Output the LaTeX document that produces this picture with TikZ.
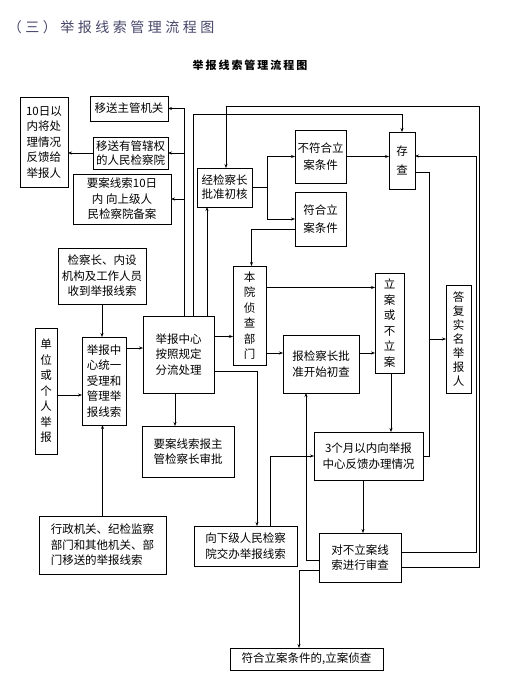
\documentclass[tikz,border=0pt]{standalone}
\usepackage{fontspec}
\setmainfont{Noto Sans CJK SC}
\newfontfamily\ttlfont[LetterSpace=25]{Noto Sans CJK SC}
\newfontfamily\subttlfont[LetterSpace=18]{Noto Sans CJK SC}
\usepackage{tikz}
\usetikzlibrary{arrows.meta,positioning}
\definecolor{titlegray}{RGB}{70,70,105}
\newcommand{\boxfont}{\fontsize{11.5}{15.5}\selectfont}

\begin{document}
\begin{tikzpicture}[
  x=1pt,y=-1pt,
  every node/.style={inner sep=0pt,outer sep=0pt},
  box/.style={draw,line width=0.8pt,align=center,font=\boxfont},
  lbox/.style={box,align=left},
  tight/.style={font=\fontsize{11.5}{14}\selectfont},
  arr/.style={line width=0.8pt,-{Stealth[length=4pt,width=3pt]}},
  ln/.style={line width=0.8pt},
]
\useasboundingbox(0,0)rectangle(513,689);

\node[anchor=west,font=\ttlfont\fontsize{14}{16}\selectfont,text=titlegray](ttl)
  at(8,27){（三）举报线索管理流程图};
\node[font=\subttlfont\bfseries\fontsize{11}{13}\selectfont](sub)
  at(250,65){举报线索管理流程图};

\node[box,minimum width=48pt,minimum height=90pt](fb)at(44,142){10日以\\内将处\\理情况\\反馈给\\举报人};
\node[box,minimum width=78pt,minimum height=25pt](zg)at(129,108.5){移送主管机关};
\node[box,tight,minimum width=75pt,minimum height=32pt](gx)at(130.5,153){移送有管辖权\\的人民检察院};
\node[box,minimum width=98pt,minimum height=50pt](ba)at(122,199){要案线索10日\\内\ 向上级人\\民检察院备案};
\node[box,tight,minimum width=55pt,minimum height=39pt](cs)at(224.5,187.5){经检察长\\批准初核};
\node[box,minimum width=51pt,minimum height=53pt](bf)at(320.5,156.5){不符合立\\[2pt]案条件};
\node[box,minimum width=51pt,minimum height=54pt](fh)at(320.5,219){符合立\\[2pt]案条件};
\node[box,minimum width=26pt,minimum height=57pt](cc)at(402,160.5){存\\[4pt]查};

\node[box,minimum width=88pt,minimum height=56pt](jc)at(102,276){检察长、内设\\机构及工作人员\\收到举报线索};
\node[box,minimum width=22pt,minimum height=126pt](dw)at(46,391){单\\位\\或\\个\\人\\举\\报};
\node[box,minimum width=44pt,minimum height=88pt](sl)at(104,381){举报中\\心统一\\受理和\\管理举\\报线索};
\node[box,minimum width=71pt,minimum height=77pt](fl)at(178.5,354.5){举报中心\\按照规定\\分流处理};
\node[box,minimum width=33pt,minimum height=99pt](zc)at(249.5,315.5){本\\院\\侦\\查\\部\\门};
\node[box,minimum width=29pt,minimum height=100pt](la)at(389.5,323){立\\案\\或\\不\\立\\案};
\node[box,minimum width=76pt,minimum height=58pt](cc2)at(321,364){报检察长批\\准开始初查};
\node[box,tight,minimum width=25pt,minimum height=108pt](df)at(458.5,339){答\\复\\实\\名\\举\\报\\人};

\node[box,minimum width=92pt,minimum height=51pt](yasp)at(188,451.5){要案线索报主\\管检察长审批};
\node[box,minimum width=109pt,minimum height=48pt](fk)at(368.5,456){3个月以内向举报\\中心反馈办理情况};
\node[lbox,minimum width=103pt,minimum height=40pt](xj)at(245.5,546){向下级人民检察\\院交办举报线索};
\node[box,minimum width=82pt,minimum height=49pt](sc)at(360,557.5){对不立案线\\索进行审查};
\node[lbox,minimum width=127pt,minimum height=58pt](xs)at(102.5,545){行政机关、纪检监察\\部门和其他机关、部\\门移送的举报线索};
\node[box,minimum width=153pt,minimum height=22pt](xz)at(306.5,659){符合立案条件的,立案侦查};

\coordinate(busA)at(184,0);
\coordinate(busB)at(193,114);
\coordinate(busC)at(207,0);
\coordinate(splt)at(267,0);
\coordinate(rtA)at(429,172);
\coordinate(rtB)at(476,156);
\coordinate(rtC)at(479,106);

\draw[arr](fl.north-|busA)|-(zg.east);
\draw[arr](gx.east-|busA)--(gx.east);
\draw[arr](ba.east-|busA)--(ba.east);
\draw[arr](gx.west)--(gx.west-|fb.east);
\draw[arr](fl.north-|busB)--(busB)-|(cc.north);
\draw[arr](fl.north-|busC)--(cs.south-|busC);

\draw[ln](cs.east)--(cs.east-|splt);
\draw[arr](cs.east-|splt)|-(bf.west);
\draw[arr](cs.east-|splt)|-(fh.west);
\draw[arr](bf.east)--(bf.east-|cc.west);
\draw[arr]([yshift=-10pt]fh.west)-|([xshift=2pt]zc.north);

\draw[arr]([yshift=18pt]fl.east)--([yshift=18pt]fl.east-|zc.west);
\draw[arr]([yshift=28pt]zc.east)--([yshift=28pt]zc.east-|la.west);
\draw[arr]([yshift=-37.5pt]zc.east)--([yshift=-37.5pt]zc.east-|cc2.west);
\draw[arr]([yshift=11pt]cc2.east)--([yshift=11pt]cc2.east-|la.west);
\draw[arr]([xshift=1.5pt]la.south)--([xshift=1.5pt]la.south|-fk.north);
\draw[arr]([xshift=-5.5pt]fk.south)--([xshift=-5.5pt]fk.south|-sc.north);
\draw[arr]([yshift=-12.5pt]sc.west)-|([xshift=-7.5pt]xz.north);
\draw[arr]([yshift=-2.5pt]sc.west)-|([xshift=-15pt]cc2.south);
\draw[arr]([yshift=5.5pt]sc.east)-|(rtB)--(rtB-|cc.east);
\draw[arr]([yshift=-9.5pt]sc.east)-|(rtC)-|([xshift=1.5pt]cs.north);
\draw[ln](fk.east)-|(rtA)--(rtA-|cc.east);
\draw[arr](df.west-|rtA)--(df.west);

\draw[arr]([yshift=-16.5pt]fl.east)-|([xshift=11.5pt]xj.north);
\draw[arr]([xshift=24.5pt]xj.north)|-(fk.west);
\draw[arr]([xshift=-3.5pt]fl.south)--([xshift=-3.5pt]fl.south|-yasp.north);

\draw[arr]([yshift=33pt]sl.east)--([yshift=33pt]sl.east-|fl.west);
\draw[arr]([yshift=-4pt]dw.east)--([yshift=-4pt]dw.east-|sl.west);
\draw[arr](jc.south)--(jc.south|-sl.north);
\draw[arr](xs.north)--(xs.north|-sl.south);
\end{tikzpicture}
\end{document}
